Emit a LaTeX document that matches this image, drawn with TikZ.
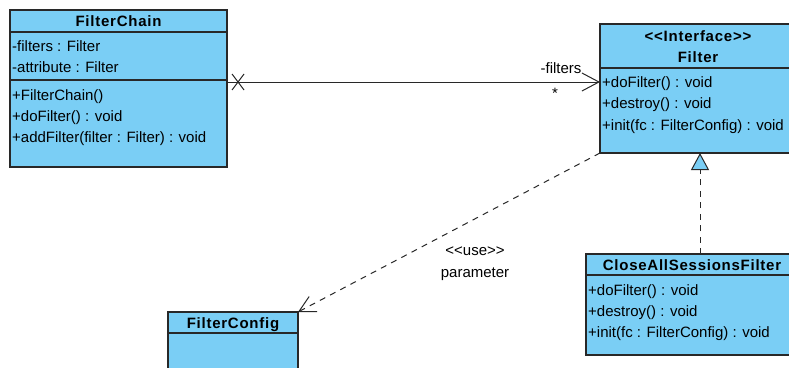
\documentclass[tikz,border=0pt]{standalone}
\usepackage{fontspec}
\setmainfont{Liberation Sans}
\newfontfamily\ttlfont[LetterSpace=5]{Liberation Sans}
\usetikzlibrary{arrows.meta,calc}
\definecolor{umlfill}{RGB}{122,206,245}
\definecolor{umlline}{RGB}{40,40,40}
\begin{document}
\begin{tikzpicture}[x=1pt,y=-1pt,
  cls/.style={draw=umlline, fill=umlfill, line width=1.4pt, anchor=north west, inner sep=0, outer sep=0},
  divider/.style={draw=umlline, line width=1.2pt},
  txt/.style={anchor=base west, inner sep=0, font=\fontsize{15}{17}\selectfont},
  ttl/.style={anchor=base, inner sep=0, font=\ttlfont\fontsize{15}{17}\selectfont\bfseries},
  lbl/.style={anchor=base, inner sep=0, font=\fontsize{15}{17}\selectfont},
  conn/.style={draw=umlline, line width=1pt},
  dashconn/.style={conn, dash pattern=on 6pt off 5.5pt}]
\useasboundingbox (0,0) rectangle (789,367);
\fill[white] (0,0) rectangle (789,367);

% FilterChain
\node[cls, minimum width=217pt, minimum height=157pt] (fc) at (10,10) {};
\draw[divider] (10,32) -- (227,32);
\draw[divider] (10,80) -- (227,80);
\node[ttl] (fcT) at (118.5,26.5) {FilterChain};
\node[txt] (fcA1) at (12,51.5) {-filters : Filter};
\node[txt] (fcA2) at (12,72.5) {-attribute : Filter};
\node[txt] (fcM1) at (12,100.5) {+FilterChain()};
\node[txt] (fcM2) at (12,121.5) {+doFilter() : void};
\node[txt] (fcM3) at (12,142.5) {+addFilter(filter : Filter) : void};

% Filter
\node[cls, minimum width=200pt, minimum height=129pt] (flt) at (600,24) {};
\draw[divider] (600,68) -- (800,68);
\node[ttl] (fltS) at (698,41.5) {<{}<Interface>{}>};
\node[ttl] (fltT) at (698,62.5) {Filter};
\node[txt] (fltM1) at (602,87.5) {+doFilter() : void};
\node[txt] (fltM2) at (602,108.5) {+destroy() : void};
\node[txt] (fltM3) at (602,130.5) {+init(fc : FilterConfig) : void};

% CloseAllSessionsFilter
\node[cls, minimum width=212pt, minimum height=101pt] (cas) at (586,254) {};
\draw[divider] (586,275) -- (798,275);
\node[ttl] (casT) at (692,270.5) {CloseAllSessionsFilter};
\node[txt] (casM1) at (588,295.5) {+doFilter() : void};
\node[txt] (casM2) at (588,316.5) {+destroy() : void};
\node[txt] (casM3) at (588,337.5) {+init(fc : FilterConfig) : void};

% FilterConfig
\node[cls, minimum width=130pt, minimum height=70pt] (cfg) at (168,312) {};
\draw[divider] (168,333) -- (298,333);
\node[ttl] (cfgT) at (233,328.5) {FilterConfig};

% Association FilterChain -> Filter
\coordinate (aS) at ($(fc.north east)+(0,72)$);
\coordinate (aE) at ($(flt.north west)+(0,58)$);
\draw[conn, -{Straight Barb[length=17pt,width=18pt,line width=1pt]}] (aS) -- (aE);
\coordinate (xm) at ($(aS)+(11,0)$);
\draw[conn] ($(xm)+(-6,-8)$) -- ($(xm)+(6,8)$) ($(xm)+(-6,8)$) -- ($(xm)+(6,-8)$);
\node[lbl] (roleL) at (561,73) {-filters};
\node[lbl] (multL) at (555,98) {*};

% Dependency Filter -> FilterConfig
\draw[dashconn, -{Straight Barb[length=16pt,width=17pt,line width=1pt]}] (flt.south west) -- (cfg.north east);
\node[lbl] (useL) at (475,255) {<{}<use>{}>};
\node[lbl] (parL) at (475,277.5) {parameter};

% Realization CloseAllSessionsFilter -> Filter
\draw[dashconn, -{Triangle[length=17pt,width=18pt,fill=umlfill,line width=1pt]}] (flt.south |- cas.north) -- (flt.south);
\end{tikzpicture}
\end{document}
